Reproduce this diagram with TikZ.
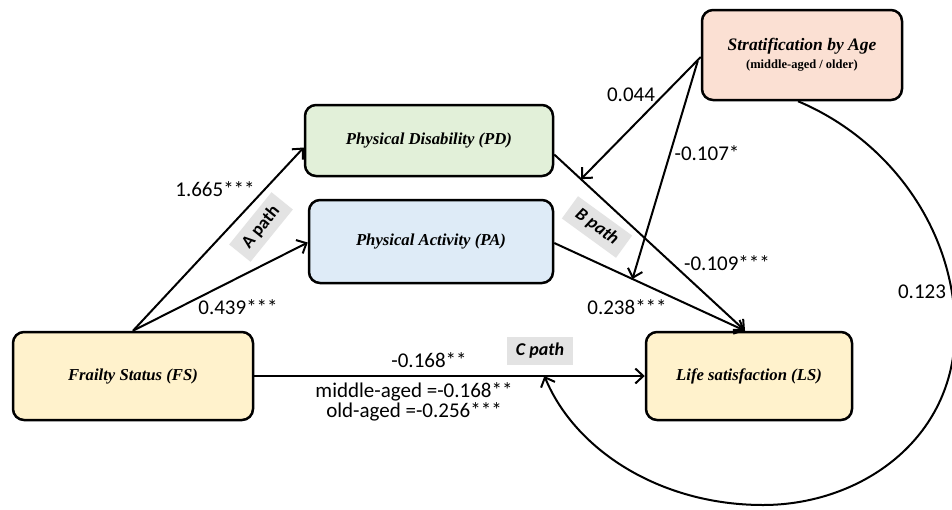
\documentclass[tikz,border=0pt]{standalone}
\usepackage{fontspec}
\setmainfont{Liberation Serif}
\newfontfamily\labfont{Carlito}
\usetikzlibrary{arrows.meta}
\definecolor{peach}{HTML}{FBE0D3}
\definecolor{lgreen}{HTML}{E2F0D9}
\definecolor{lblue}{HTML}{DEEBF7}
\definecolor{lyellow}{HTML}{FFF2CC}
\definecolor{lgray}{HTML}{E3E3E3}
\begin{document}
\begin{tikzpicture}[x=1pt,y=-1pt,
  box/.style={draw, line width=2.5pt, rounded corners=11pt, inner sep=0pt,
    font=\fontsize{16.7}{19}\selectfont\bfseries\itshape, align=center},
  conn/.style={line width=2pt, -{Straight Barb[length=8pt,width=15pt]}},
  lab/.style={font=\labfont\fontsize{21}{24}\selectfont, inner sep=1pt},
  pathlab/.style={fill=lgray, font=\labfont\fontsize{18}{20}\selectfont\bfseries\itshape,
    inner xsep=9pt, inner ysep=6pt}]
\useasboundingbox[fill=white] (0,0) rectangle (952,509);

\node[box, fill=peach, minimum width=200pt, minimum height=90pt] (strat) at (802,55)
  {{\fontsize{17.5}{20}\selectfont Stratification by Age}\\[-1pt]{\fontsize{12.5}{15}\selectfont\upshape (middle-aged / older)}};
\node[box, fill=lgreen, minimum width=248pt, minimum height=71pt] (pd) at (429,140.5) {Physical Disability (PD)};
\node[box, fill=lblue, minimum width=244pt, minimum height=83pt] (pa) at (431,241.5) {Physical Activity (PA)};
\node[box, fill=lyellow, minimum width=240pt, minimum height=88pt] (fs) at (133,376) {Frailty Status (FS)};
\node[box, fill=lyellow, minimum width=206pt, minimum height=88pt] (ls) at (749,376) {Life satisfaction (LS)};

% A paths
\draw[conn] (fs.north) -- ([yshift=-7pt]pd.west);
\draw[conn] (fs.north) -- ([yshift=-1pt]pa.west);
% B paths
\coordinate (lsin) at ([xshift=-4pt]ls.north);
\coordinate (pdo) at ([yshift=-14pt]pd.east);
\coordinate (pao) at ([yshift=-1.5pt]pa.east);
\draw[conn] (pdo) -- (lsin);
\draw[conn] (pao) -- (lsin);
\path (pdo) -- (lsin) coordinate[pos=0.14] (m1);
\path (pao) -- (lsin) coordinate[pos=0.41] (m2);
% C path
\draw[conn] (fs.east) -- (ls.west);
\path (fs.east) -- (ls.west) coordinate[pos=0.743] (m3);
% moderation arrows
\draw[conn] ([yshift=-2pt]strat.west) -- (m1);
\draw[conn] ([yshift=-6pt,xshift=-3pt]strat.west) -- (m2);
\draw[conn] ([xshift=-4pt]strat.south) .. controls (890,140) and (955,230) .. (955,330)
  .. controls (955,440) and (860,505) .. (763,505)
  .. controls (660,505) and (575,450) .. (m3);

% labels
\node[lab] (l1) at (215,189) {1.665***};
\node[lab] (l2) at (238,307) {0.439***};
\node[lab] (l3) at (631,95) {0.044};
\node[lab] (l4) at (707,153) {-0.107*};
\node[lab] (l5) at (727,263) {-0.109***};
\node[lab] (l6) at (627,307) {0.238***};
\node[lab] (l7) at (922,292) {0.123};
\node[lab] (l8) at (429,360) {-0.168**};
\node[lab, align=center] (l9) at (414,402) {middle-aged =-0.168**\\[-4pt]old-aged =-0.256***};

\node[pathlab, rotate=51, font=\labfont\fontsize{18}{20}\selectfont\bfseries] (ap) at (261,227) {A path};
\node[pathlab, rotate=-36] (bp) at (597,227) {B path};
\node[pathlab] (cp) at (540,351) {C path};
\end{tikzpicture}
\end{document}
